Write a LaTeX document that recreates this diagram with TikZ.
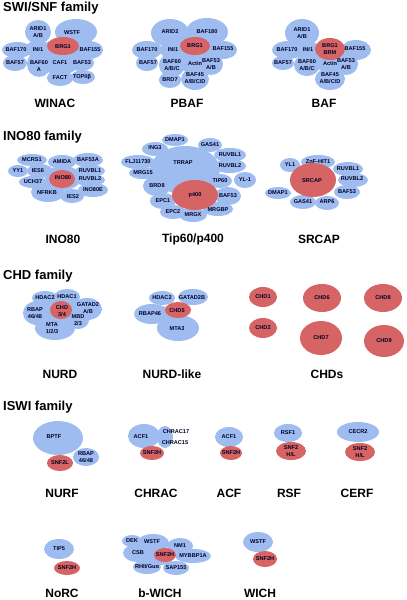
\documentclass[tikz,border=0pt]{standalone}
\usepackage{fontspec}
\setmainfont{Liberation Sans}
\usepackage{tikz}
\definecolor{blobblue}{RGB}{158,188,240}
\definecolor{blobred}{RGB}{214,100,100}
\begin{document}
\begin{tikzpicture}[x=1pt,y=-1pt]
			\tikzstyle{lbl}=[font=\fontsize{5.6}{6.6}\selectfont\bfseries,align=center,inner sep=0pt,text=black!85!blue]
			\tikzstyle{fam}=[font=\fontsize{13}{14}\selectfont\bfseries,anchor=west,inner sep=0pt]
			\tikzstyle{cplx}=[font=\fontsize{12}{13}\selectfont\bfseries,inner sep=0pt]
			\tikzstyle{bl}=[fill=blobblue]
			\tikzstyle{rd}=[fill=blobred]
			\useasboundingbox[fill=white] (0,0) rectangle (407,600);
			% section titles
			\node[fam] (swisnf) at (3,8) {SWI/SNF family};
			\node[fam] (ino80f) at (3,137) {INO80 family};
			\node[fam] (chdf) at (3,276) {CHD family};
			\node[fam] (iswif) at (3,407) {ISWI family};
			% WINAC
			\fill[bl] (38,32) ellipse (13pt and 12pt);
			\fill[bl] (76,32) ellipse (21pt and 13pt);
			\fill[bl] (17,50) ellipse (15pt and 8pt);
			\fill[bl] (38,49) ellipse (12pt and 9pt);
			\fill[bl] (89,50) ellipse (14pt and 9pt);
			\fill[bl] (15,63) ellipse (12pt and 8pt);
			\fill[bl] (39,64) ellipse (12pt and 13pt);
			\fill[bl] (60,57) ellipse (22pt and 18pt);
			\fill[bl] (81,63) ellipse (13pt and 8pt);
			\fill[bl] (60,78) ellipse (13pt and 8pt);
			\fill[bl] (83,77) ellipse (12pt and 7pt);
			\fill[rd] (63,46) ellipse (16pt and 9pt);
			\node[lbl] (wn-arid1) at (38,32) {ARID1\\A/B};
			\node[lbl] (wn-wstf) at (72,33) {WSTF};
			\node[lbl] (wn-baf170) at (16,50) {BAF170};
			\node[lbl] (wn-ini1) at (38,50) {INI1};
			\node[lbl] (wn-brg1) at (63,47) {BRG1};
			\node[lbl] (wn-baf155) at (90,50) {BAF155};
			\node[lbl] (wn-baf57) at (15,63) {BAF57};
			\node[lbl] (wn-baf60) at (39,66) {BAF60\\A};
			\node[lbl] (wn-caf1) at (60,63) {CAF1};
			\node[lbl] (wn-baf53) at (82,63) {BAF53};
			\node[lbl] (wn-fact) at (60,78) {FACT};
			\node[lbl] (wn-top2b) at (82,77) {TOPIIβ};
			\node[cplx] (winac) at (55,103) {WINAC};
			% PBAF
			\fill[bl] (170,33) ellipse (19pt and 14pt);
			\fill[bl] (207,32) ellipse (21pt and 14pt);
			\fill[bl] (147,50) ellipse (15pt and 9pt);
			\fill[bl] (172,50) ellipse (12pt and 9pt);
			\fill[bl] (223,50) ellipse (14pt and 9pt);
			\fill[bl] (147,63) ellipse (11pt and 8pt);
			\fill[bl] (172,65) ellipse (13pt and 12pt);
			\fill[bl] (195,57) ellipse (22pt and 16pt);
			\fill[bl] (211,64) ellipse (12pt and 11pt);
			\fill[bl] (195,79) ellipse (14pt and 11pt);
			\fill[bl] (170,80) ellipse (11pt and 8pt);
			\fill[rd] (195,46) ellipse (15pt and 9pt);
			\node[lbl] (pb-arid2) at (170,32) {ARID2};
			\node[lbl] (pb-baf180) at (207,32) {BAF180};
			\node[lbl] (pb-baf170) at (147,50) {BAF170};
			\node[lbl] (pb-ini1) at (173,50) {INI1};
			\node[lbl] (pb-brg1) at (195,46) {BRG1};
			\node[lbl] (pb-baf155) at (223,49) {BAF155};
			\node[lbl] (pb-baf57) at (148,63) {BAF57};
			\node[lbl] (pb-baf60) at (172,65) {BAF60\\A/B/C};
			\node[lbl] (pb-actin) at (195,63) {Actin};
			\node[lbl] (pb-baf53) at (211,64) {BAF53\\A/B};
			\node[lbl] (pb-baf45) at (195,78) {BAF45\\A/B/C/D};
			\node[lbl] (pb-brd7) at (170,80) {BRD7};
			\node[cplx] (pbaf) at (187,103) {PBAF};
			% BAF
			\fill[bl] (302,33) ellipse (17pt and 14pt);
			\fill[bl] (288,50) ellipse (16pt and 9pt);
			\fill[bl] (308,50) ellipse (12pt and 9pt);
			\fill[bl] (356,50) ellipse (15pt and 10pt);
			\fill[bl] (283,63) ellipse (11pt and 7pt);
			\fill[bl] (307,65) ellipse (13pt and 11pt);
			\fill[bl] (328,57) ellipse (20pt and 14pt);
			\fill[bl] (346,64) ellipse (12pt and 11pt);
			\fill[bl] (330,79) ellipse (15pt and 11pt);
			\fill[rd] (330,49) ellipse (15pt and 11pt);
			\node[lbl] (bf-arid1) at (302,33) {ARID1\\A/B};
			\node[lbl] (bf-baf170) at (287,50) {BAF170};
			\node[lbl] (bf-ini1) at (308,50) {INI1};
			\node[lbl] (bf-brg1) at (330,49) {BRG1\\BRM};
			\node[lbl] (bf-baf155) at (355,49) {BAF155};
			\node[lbl] (bf-baf57) at (283,63) {BAF57};
			\node[lbl] (bf-baf60) at (307,65) {BAF60\\A/B/C};
			\node[lbl] (bf-actin) at (330,63) {Actin};
			\node[lbl] (bf-baf53) at (346,64) {BAF53\\A/B};
			\node[lbl] (bf-baf45) at (330,78) {BAF45\\A/B/C/D};
			\node[cplx] (baf) at (324,103) {BAF};
			% INO80
			\fill[bl] (32,160) ellipse (15pt and 6pt);
			\fill[bl] (62,162) ellipse (14pt and 7pt);
			\fill[bl] (88,160) ellipse (15pt and 7pt);
			\fill[bl] (18,171) ellipse (10pt and 6pt);
			\fill[bl] (40,171) ellipse (13pt and 7pt);
			\fill[bl] (90,171) ellipse (15pt and 6pt);
			\fill[bl] (90,180) ellipse (15pt and 6pt);
			\fill[bl] (33,182) ellipse (14pt and 6pt);
			\fill[bl] (93,190) ellipse (15pt and 7pt);
			\fill[bl] (48,192) ellipse (17pt and 10pt);
			\fill[bl] (72,196) ellipse (12pt and 7pt);
			\fill[bl] (63,178) ellipse (18pt and 12pt);
			\fill[rd] (62,179) ellipse (13pt and 9pt);
			\node[lbl] (in-mcrs1) at (32,160) {MCRS1};
			\node[lbl] (in-amida) at (62,162) {AMIDA};
			\node[lbl] (in-baf53a) at (88,160) {BAF53A};
			\node[lbl] (in-yy1) at (18,171) {YY1};
			\node[lbl] (in-ies6) at (38,171) {IES6};
			\node[lbl] (in-ruvbl1) at (90,171) {RUVBL1};
			\node[lbl] (in-ino80) at (63,178) {INO80};
			\node[lbl] (in-ruvbl2) at (90,179) {RUVBL2};
			\node[lbl] (in-uch37) at (33,182) {UCH37};
			\node[lbl] (in-ino80e) at (93,190) {INO80E};
			\node[lbl] (in-nfrkb) at (47,193) {NFRKB};
			\node[lbl] (in-ies2) at (73,197) {IES2};
			\node[cplx] (ino80) at (63,239) {INO80};
			% Tip60/p400
			\fill[bl] (185,170) ellipse (35pt and 24pt);
			\fill[bl] (175,140) ellipse (13pt and 6pt);
			\fill[bl] (155,149) ellipse (13pt and 7pt);
			\fill[bl] (210,145) ellipse (12pt and 7pt);
			\fill[bl] (138,162) ellipse (17pt and 7pt);
			\fill[bl] (230,155) ellipse (16pt and 7pt);
			\fill[bl] (230,166) ellipse (16pt and 7pt);
			\fill[bl] (143,173) ellipse (14pt and 6pt);
			\fill[bl] (245,180) ellipse (11pt and 8pt);
			\fill[bl] (220,181) ellipse (12pt and 7pt);
			\fill[bl] (157,186) ellipse (14pt and 10pt);
			\fill[bl] (228,196) ellipse (13pt and 9pt);
			\fill[bl] (163,201) ellipse (13pt and 8pt);
			\fill[bl] (173,212) ellipse (13pt and 7pt);
			\fill[bl] (193,215) ellipse (14pt and 7pt);
			\fill[bl] (218,209) ellipse (15pt and 7pt);
			\fill[rd] (195,195) ellipse (23pt and 15pt);
			\node[lbl] (tp-dmap1) at (175,140) {DMAP1};
			\node[lbl] (tp-ing3) at (155,148) {ING3};
			\node[lbl] (tp-gas41) at (210,145) {GAS41};
			\node[lbl] (tp-flj) at (138,162) {FLJ11730};
			\node[lbl] (tp-trrap) at (183,163) {TRRAP};
			\node[lbl] (tp-ruvbl1) at (230,155) {RUVBL1};
			\node[lbl] (tp-ruvbl2) at (230,166) {RUVBL2};
			\node[lbl] (tp-mrg15) at (143,173) {MRG15};
			\node[lbl] (tp-yl1) at (245,180) {YL-1};
			\node[lbl] (tp-tip60) at (220,181) {TIP60};
			\node[lbl] (tp-brd8) at (157,186) {BRD8};
			\node[lbl] (tp-p400) at (195,195) {p400};
			\node[lbl] (tp-baf53) at (228,196) {BAF53};
			\node[lbl] (tp-epc1) at (163,201) {EPC1};
			\node[lbl] (tp-epc2) at (173,212) {EPC2};
			\node[lbl] (tp-mrgx) at (193,215) {MRGX};
			\node[lbl] (tp-mrgbp) at (218,210) {MRGBP};
			\node[cplx] (tip60) at (193,239) {Tip60/p400};
			% SRCAP
			\fill[bl] (290,165) ellipse (10pt and 7pt);
			\fill[bl] (318,162) ellipse (17pt and 7pt);
			\fill[bl] (348,169) ellipse (15pt and 7pt);
			\fill[bl] (353,180) ellipse (15pt and 7pt);
			\fill[bl] (278,193) ellipse (13pt and 6pt);
			\fill[bl] (347,192) ellipse (13pt and 7pt);
			\fill[bl] (303,202) ellipse (13pt and 7pt);
			\fill[bl] (327,203) ellipse (12pt and 7pt);
			\fill[rd] (313,180) ellipse (23pt and 17pt);
			\node[lbl] (sr-yl1) at (290,165) {YL1};
			\node[lbl] (sr-znf) at (318,162) {ZnF-HIT1};
			\node[lbl] (sr-ruvbl1) at (348,169) {RUVBL1};
			\node[lbl] (sr-srcap) at (312,181) {SRCAP};
			\node[lbl] (sr-ruvbl2) at (352,179) {RUVBL2};
			\node[lbl] (sr-dmap1) at (278,193) {DMAP1};
			\node[lbl] (sr-baf53) at (347,192) {BAF53};
			\node[lbl] (sr-gas41) at (303,202) {GAS41};
			\node[lbl] (sr-arp6) at (327,202) {ARP6};
			\node[cplx] (srcap) at (319,239) {SRCAP};
			% NURD
			\fill[bl] (45,298) ellipse (13pt and 7pt);
			\fill[bl] (67,297) ellipse (13pt and 8pt);
			\fill[bl] (87,309) ellipse (15pt and 11pt);
			\fill[bl] (37,313) ellipse (14pt and 12pt);
			\fill[bl] (78,320) ellipse (11pt and 9pt);
			\fill[bl] (55,328) ellipse (20pt and 12pt);
			\fill[bl] (60,312) ellipse (18pt and 12pt);
			\fill[rd] (61,310) ellipse (11pt and 9pt);
			\node[lbl] (nd-hdac2) at (45,298) {HDAC2};
			\node[lbl] (nd-hdac1) at (67,297) {HDAC1};
			\node[lbl] (nd-gatad2) at (88,308) {GATAD2\\A/B};
			\node[lbl] (nd-rbap) at (35,313) {RBAP\\46/48};
			\node[lbl] (nd-chd) at (62,311) {CHD\\3/4};
			\node[lbl] (nd-mbd) at (78,320) {MBD\\2/3};
			\node[lbl] (nd-mta) at (52,328) {MTA\\1/2/3};
			\node[cplx] (nurd) at (60,374) {NURD};
			% NURD-like
			\fill[bl] (162,298) ellipse (13pt and 7pt);
			\fill[bl] (193,297) ellipse (15pt and 8pt);
			\fill[bl] (152,314) ellipse (18pt and 10pt);
			\fill[bl] (178,328) ellipse (21pt and 13pt);
			\fill[rd] (178,310) ellipse (13pt and 8pt);
			\node[lbl] (nl-hdac2) at (162,298) {HDAC2};
			\node[lbl] (nl-gatad2b) at (192,298) {GATAD2B};
			\node[lbl] (nl-rbap46) at (150,314) {RBAP46};
			\node[lbl] (nl-chd5) at (177,311) {CHD5};
			\node[lbl] (nl-mta3) at (177,329) {MTA3};
			\node[cplx] (nurdlike) at (172,374) {NURD-like};
			% CHDs
			\fill[rd] (263,297) ellipse (14pt and 10pt);
			\fill[rd] (322,298) ellipse (19pt and 14pt);
			\fill[rd] (383,298) ellipse (19pt and 14pt);
			\fill[rd] (263,328) ellipse (14pt and 10pt);
			\fill[rd] (321,338) ellipse (21pt and 17pt);
			\fill[rd] (384,341) ellipse (20pt and 16pt);
			\node[lbl] (cd-chd1) at (263,297) {CHD1};
			\node[lbl] (cd-chd6) at (322,298) {CHD6};
			\node[lbl] (cd-chd8) at (383,298) {CHD8};
			\node[lbl] (cd-chd2) at (263,328) {CHD2};
			\node[lbl] (cd-chd7) at (321,338) {CHD7};
			\node[lbl] (cd-chd9) at (384,341) {CHD9};
			\node[cplx] (chds) at (327,374) {CHDs};
			% NURF
			\fill[bl] (58,438) ellipse (25pt and 17pt);
			\fill[bl] (86,457) ellipse (13pt and 9pt);
			\fill[rd] (60,463) ellipse (13pt and 8pt);
			\node[lbl] (nf-bptf) at (54,437) {BPTF};
			\node[lbl] (nf-rbap) at (86,457) {RBAP\\46/48};
			\node[lbl] (nf-snf2l) at (60,463) {SNF2L};
			\node[cplx] (nurf) at (62,493) {NURF};
			% CHRAC
			\fill[bl] (144,436) ellipse (16pt and 12pt);
			\fill[bl] (165,437) ellipse (8pt and 11pt);
			\fill[rd] (152,453) ellipse (12pt and 7pt);
			\node[lbl] (cr-acf1) at (141,437) {ACF1};
			\node[lbl] (cr-chrac17) at (176,432) {CHRAC17};
			\node[lbl] (cr-chrac15) at (175,443) {CHRAC15};
			\node[lbl] (cr-snf2h) at (152,453) {SNF2H};
			\node[cplx] (chrac) at (156,493) {CHRAC};
			% ACF
			\fill[bl] (229,437) ellipse (14pt and 10pt);
			\fill[rd] (231,453) ellipse (11pt and 7pt);
			\node[lbl] (ac-acf1) at (229,437) {ACF1};
			\node[lbl] (ac-snf2h) at (231,453) {SNF2H};
			\node[cplx] (acf) at (229,493) {ACF};
			% RSF
			\fill[bl] (288,433) ellipse (14pt and 9pt);
			\fill[rd] (291,451) ellipse (15pt and 9pt);
			\node[lbl] (rs-rsf1) at (288,433) {RSF1};
			\node[lbl] (rs-snf2) at (291,451) {SNF2\\H/L};
			\node[cplx] (rsf) at (289,493) {RSF};
			% CERF
			\fill[bl] (358,432) ellipse (21pt and 10pt);
			\fill[rd] (360,452) ellipse (15pt and 9pt);
			\node[lbl] (ce-cecr2) at (358,432) {CECR2};
			\node[lbl] (ce-snf2) at (360,452) {SNF2\\H/L};
			\node[cplx] (cerf) at (357,493) {CERF};
			% NoRC
			\fill[bl] (59,549) ellipse (15pt and 10pt);
			\fill[rd] (67,568) ellipse (13pt and 7pt);
			\node[lbl] (no-tip5) at (59,549) {TIP5};
			\node[lbl] (no-snf2h) at (67,568) {SNF2H};
			\node[cplx] (norc) at (62,593) {NoRC};
			% b-WICH
			\fill[bl] (132,541) ellipse (10pt and 6pt);
			\fill[bl] (153,543) ellipse (16pt and 9pt);
			\fill[bl] (180,546) ellipse (13pt and 8pt);
			\fill[bl] (138,553) ellipse (15pt and 9pt);
			\fill[bl] (193,556) ellipse (18pt and 7pt);
			\fill[bl] (147,567) ellipse (14pt and 7pt);
			\fill[bl] (176,568) ellipse (13pt and 7pt);
			\fill[bl] (160,556) ellipse (14pt and 9pt);
			\fill[rd] (165,555) ellipse (11pt and 7pt);
			\node[lbl] (bw-dek) at (132,541) {DEK};
			\node[lbl] (bw-wstf) at (152,542) {WSTF};
			\node[lbl] (bw-nm1) at (180,546) {NM1};
			\node[lbl] (bw-csb) at (138,553) {CSB};
			\node[lbl] (bw-snf2h) at (165,555) {SNF2H};
			\node[lbl] (bw-mybbp1a) at (193,556) {MYBBP1A};
			\node[lbl] (bw-rhii) at (147,567) {RHII/Guα};
			\node[lbl] (bw-sap155) at (176,568) {SAP155};
			\node[cplx] (bwich) at (160,593) {b-WICH};
			% WICH
			\fill[bl] (258,542) ellipse (15pt and 10pt);
			\fill[rd] (265,559) ellipse (12pt and 8pt);
			\node[lbl] (wi-wstf) at (258,542) {WSTF};
			\node[lbl] (wi-snf2h) at (265,559) {SNF2H};
			\node[cplx] (wich) at (260,593) {WICH};
		\end{tikzpicture}
\end{document}
